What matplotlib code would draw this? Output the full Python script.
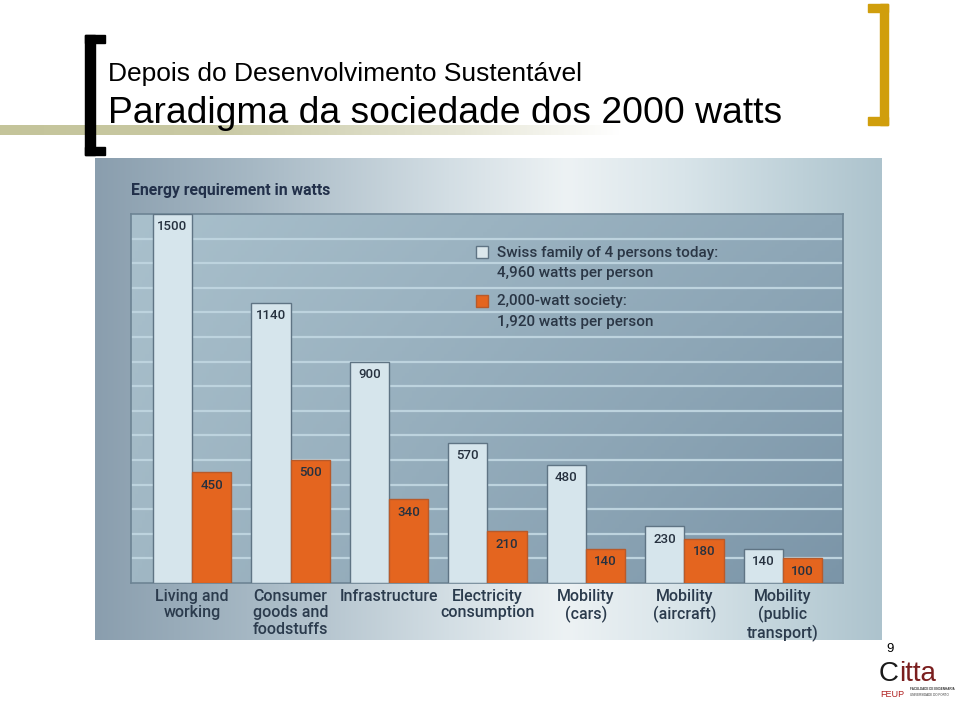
import numpy as np
import matplotlib
matplotlib.use("Agg")
import matplotlib.pyplot as plt
from matplotlib.patches import Rectangle
from matplotlib.colors import to_rgb

# ---------------- data ----------------
categories = ["Living and\nworking", "Consumer\ngoods and\nfoodstuffs", "Infrastructure",
              "Electricity\nconsumption", "Mobility\n(cars)", "Mobility\n(aircraft)",
              "Mobility\n(public\ntransport)"]
today = [1500, 1140, 900, 570, 480, 230, 140]
society = [450, 500, 340, 210, 140, 180, 100]
legend_lines = [["Swiss family of 4 persons today:", "4,960 watts per person"],
                ["2,000-watt society:", "1,920 watts per person"]]
title_top = "Depois do Desenvolvimento Sustentável"
title_main = "Paradigma da sociedade dos 2000 watts"
chart_title = "Energy requirement in watts"
page_number = "9"

W, H = 959, 701
fig = plt.figure(figsize=(W / 100, H / 100), dpi=100)
fig.patch.set_facecolor("white")


def fx(x):
    return x / W


def fy(y):
    return 1 - y / H


def rect(x0, y0, x1, y1):
    return [fx(x0), fy(y1), (x1 - x0) / W, (y1 - y0) / H]


def hgrad(stops, n=400):
    xs = np.linspace(0, 1, n)
    pos = [s[0] for s in stops]
    cols = np.array([to_rgb(s[1]) for s in stops])
    return np.stack([np.interp(xs, pos, cols[:, k]) for k in range(3)], axis=-1)


# ---------------- slide decorations ----------------
band = fig.add_axes(rect(0, 125, 620, 135))
band.axis("off")
row = hgrad([(0, "#c4c49a"), (0.35, "#c9c9a4"), (0.75, "#e6e6d6"), (1.0, "#ffffff")])
band.imshow(row[None, :, :], aspect="auto", extent=[0, 1, 0, 1])

for (x0, y0, x1, y1) in [(85, 35, 95, 155), (85, 35, 105, 43), (85, 147, 105, 155)]:
    fig.patches.append(Rectangle((fx(x0), fy(y1)), (x1 - x0) / W, (y1 - y0) / H,
                                 transform=fig.transFigure, color="black", zorder=5))
for (x0, y0, x1, y1) in [(880, 4, 888, 125), (868, 4, 888, 12), (868, 117, 888, 125)]:
    fig.patches.append(Rectangle((fx(x0), fy(y1)), (x1 - x0) / W, (y1 - y0) / H,
                                 transform=fig.transFigure, color="#d09e0c", zorder=5))

fig.text(fx(108), fy(81), title_top, fontsize=19, family="Liberation Sans",
         va="baseline", ha="left", color="black", zorder=6)
fig.text(fx(108), fy(123), title_main, fontsize=26.8, family="Liberation Sans",
         va="baseline", ha="left", color="black", zorder=6)

# ---------------- chart image background ----------------
bg = fig.add_axes(rect(95, 158, 882, 640))
bg.axis("off")
bgrow = hgrad([(0, "#8a9eae"), (0.2, "#a6b8c4"), (0.45, "#d3dee4"), (0.6, "#edf2f4"),
               (0.75, "#d8e4e9"), (0.9, "#bdd0d8"), (1.0, "#adc3cd")])
bgimg = np.repeat(bgrow[None, :, :], 50, axis=0)
bg.imshow(bgimg, aspect="auto", extent=[0, 1, 0, 1])

fig.text(fx(131), fy(190), chart_title, fontsize=11.3, family="Roboto", weight="bold",
         color="#22304a", va="center", ha="left")

# ---------------- plot ----------------
ax = fig.add_axes(rect(131, 214, 843, 583))
x = np.arange(len(categories))
bw = 0.4
ax.set_xlim(-0.62, 6.61)
ax.set_ylim(0, 1500)

tl, tr = np.array(to_rgb("#a9c0cc")), np.array(to_rgb("#8ea7b7"))
bl, br = np.array(to_rgb("#a0b7c4")), np.array(to_rgb("#7b95a8"))
u = np.linspace(0, 1, 200)[None, :, None]
v = np.linspace(0, 1, 100)[:, None, None]
grad = (1 - v) * ((1 - u) * tl + u * tr) + v * ((1 - u) * bl + u * br)
ax.imshow(grad, aspect="auto", extent=[-0.62, 6.61, 0, 1500], zorder=0)

ax.set_yticks(range(100, 1500, 100))
ax.yaxis.grid(True, color="#bdd3de", lw=1.6)
ax.set_axisbelow(True)
ax.tick_params(axis="y", length=0, labelleft=False)

ax.bar(x - bw / 2, today, bw, color="#d6e5ec", edgecolor="#5f7484", lw=1.0, zorder=3)
ax.bar(x + bw / 2, society, bw, color="#e4651f", edgecolor="#b85a2a", lw=1.0, zorder=3)

for xs, vals in [(x - bw / 2, today), (x + bw / 2, society)]:
    for xi, vi in zip(xs, vals):
        ax.annotate(str(vi), (xi, vi), xytext=(0, -13), textcoords="offset pixels",
                    ha="center", va="center", fontsize=9.5, family="Roboto",
                    weight="medium", color="#26313f", zorder=4)

ax.set_xticks(x)
ax.set_xticklabels(categories, fontsize=11.5, family="Roboto", color="#2b3b4d",
                   linespacing=1.16, va="top", weight="medium")
ax.tick_params(axis="x", length=0, pad=4)
for s in ax.spines.values():
    s.set_color("#6d8494")
    s.set_linewidth(1.2)

sq = [(476, 246, "#dbe7ec", "#5f7484"), (476, 295, "#e4651f", "#b85a2a")]
line_y = [(253, 273), (301, 322)]
for (sx, sy, fc, ec), lines, (y1, y2) in zip(sq, legend_lines, line_y):
    fig.patches.append(Rectangle((fx(sx), fy(sy + 12)), 12 / W, 12 / H,
                                 transform=fig.transFigure, facecolor=fc,
                                 edgecolor=ec, lw=1.0, zorder=5))
    fig.text(fx(497), fy(y1), lines[0], fontsize=11, family="Roboto", weight="medium",
             color="#2a3645", va="center", ha="left", zorder=6)
    fig.text(fx(497), fy(y2), lines[1], fontsize=11, family="Roboto", weight="medium",
             color="#2a3645", va="center", ha="left", zorder=6)

# ---------------- page number & logo ----------------
fig.text(fx(890), fy(649), page_number, fontsize=9.5, family="Liberation Sans",
         ha="center", va="center", color="black")
fig.text(fx(879), fy(681), "C", fontsize=20, family="Liberation Sans",
         ha="left", va="baseline", color="#1a1a1a")
fig.text(fx(899), fy(681), "itta", fontsize=20, family="Liberation Sans",
         ha="left", va="baseline", color="#7a1e1e")
fig.text(fx(880), fy(697), "FEUP", fontsize=6.5, family="Liberation Sans",
         ha="left", va="baseline", color="#b02020")
fig.text(fx(910), fy(689), "FACULDADE DE ENGENHARIA", fontsize=2.2, family="Liberation Sans",
         ha="left", va="center", color="#333333", weight="bold")
fig.text(fx(910), fy(695), "UNIVERSIDADE DO PORTO", fontsize=2.2, family="Liberation Sans",
         ha="left", va="center", color="#333333")

fig.savefig("out.png", dpi=100, facecolor="white")
